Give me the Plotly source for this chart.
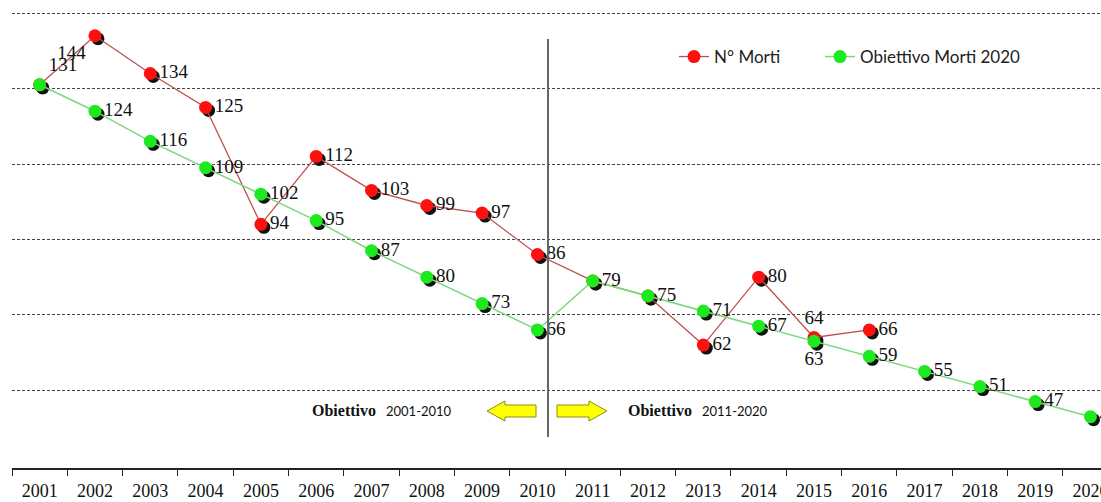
import plotly.graph_objects as go

# ---- data ----
years = [str(y) for y in range(2001, 2021)]
morti_years = years[:16]
morti = [131, 144, 134, 125, 94, 112, 103, 99, 97, 86, 79, 75, 62, 80, 64, 66]
obiettivo = [131, 124, 116, 109, 102, 95, 87, 80, 73, 66, 79, 75, 71, 67, 63, 59, 55, 51, 47, 43]
# labels shown on the chart (blank where the other series carries the label)
morti_labels = ["131", "144", "134", "125", "94", "112", "103", "99", "97", "86",
                "", "", "62", "80", "64", "66"]
obiettivo_labels = ["", "124", "116", "109", "102", "95", "87", "80", "73", "66",
                    "79", "75", "71", "67", "63", "59", "55", "51", "47", "43"]
morti_pos = ["top right", "bottom left"] + ["middle right"] * 12 + ["top center", "middle right"]
obiettivo_pos = ["middle right"] * 14 + ["bottom center"] + ["middle right"] * 5
periods = [("Obiettivo", "2001-2010"), ("Obiettivo", "2011-2020")]

W, H = 1101, 502
ML, MR, MT, MB = 12, 0, 12, 34
PW, PH = W - ML - MR, H - MT - MB
XR = [-0.5, 19.19]
YR = [29.4, 150.3]
# shadow offset (in axis units) ~3px right / 3px down
dx = 3 * (XR[1] - XR[0]) / PW
dy = 3 * (YR[1] - YR[0]) / PH


def px(x):
    return (x - ML) / PW


def py(y):
    return (H - MB - y) / PH


RED_LINE = "#bf4f4f"
GREEN_LINE = "#7fd77f"
LABEL_FONT = dict(family="Liberation Serif", size=19, color="#111111")
LEG_FONT = dict(family="Lato", size=17, color="#222222")

fig = go.Figure()

# shadows (main subplot, drawn below the overlay)
for xs, ys in [(morti_years, morti), (years, obiettivo)]:
    fig.add_trace(go.Scatter(x=xs, y=ys, mode="markers", xaxis="x", yaxis="y",
                             marker=dict(size=13, color="#111111"),
                             showlegend=False, hoverinfo="skip"))

fig.add_trace(go.Scatter(
    x=morti_years, y=morti, name="N° Morti", mode="lines+markers+text",
    xaxis="x2", yaxis="y2", legend="legend",
    line=dict(color=RED_LINE, width=1.3),
    marker=dict(size=13, color="#ff1010", line=dict(width=0)),
    text=morti_labels, textposition=morti_pos, textfont=LABEL_FONT))
fig.add_trace(go.Scatter(
    x=years, y=obiettivo, name="Obiettivo Morti 2020", mode="lines+markers+text",
    xaxis="x2", yaxis="y2", legend="legend2",
    line=dict(color=GREEN_LINE, width=1.5),
    marker=dict(size=13, color="#1ee81e", line=dict(width=0)),
    text=obiettivo_labels, textposition=obiettivo_pos, textfont=LABEL_FONT))

fig.update_layout(
    width=W, height=H,
    margin=dict(l=ML, r=MR, t=MT, b=MB, autoexpand=False),
    paper_bgcolor="white", plot_bgcolor="white",
    xaxis=dict(type="category", categoryorder="array", categoryarray=years,
               range=[XR[0] - dx, XR[1] - dx], visible=False),
    yaxis=dict(range=[YR[0] + dy, YR[1] + dy], visible=False),
    xaxis2=dict(type="category", categoryorder="array", categoryarray=years,
                overlaying="x", anchor="y2", side="bottom",
                range=XR, tickson="boundaries", ticks="outside", ticklen=6,
                tickcolor="#222222", tickwidth=1.2,
                showline=True, linecolor="#222222", linewidth=1.5,
                showgrid=False, zeroline=False, ticklabelstandoff=6,
                tickfont=dict(family="Liberation Serif", size=18, color="#111111")),
    yaxis2=dict(overlaying="y", anchor="x2", side="left",
                range=YR, tickmode="array", tickvals=[50, 70, 90, 110, 130, 150],
                showticklabels=False, ticks="", showgrid=True,
                gridcolor="#444444", gridwidth=1, griddash="3px,2px",
                zeroline=False, showline=False),
    legend=dict(x=px(674), y=py(57), xanchor="left", yanchor="middle",
                bgcolor="rgba(0,0,0,0)", font=LEG_FONT),
    legend2=dict(x=px(820), y=py(57), xanchor="left", yanchor="middle",
                 bgcolor="rgba(0,0,0,0)", font=LEG_FONT),
    showlegend=True,
)

# vertical separator
fig.add_shape(type="line", xref="paper", yref="paper",
              x0=px(548), x1=px(548), y0=py(39), y1=py(437),
              line=dict(color="#666666", width=2))


def arrow(x_tip, x_tail, yc, head=18, hh=10, sh=6):
    d = 1 if x_tail > x_tip else -1
    xb = x_tip + d * head
    pts = [(x_tip, yc), (xb, yc - hh), (xb, yc - sh), (x_tail, yc - sh),
           (x_tail, yc + sh), (xb, yc + sh), (xb, yc + hh)]
    path = "M " + " L ".join(f"{px(a):.5f},{py(b):.5f}" for a, b in pts) + " Z"
    fig.add_shape(type="path", xref="paper", yref="paper", path=path,
                  fillcolor="#ffff00", line=dict(color="#8c8c1a", width=1))


arrow(487, 536, 411)
arrow(607, 557, 411)

for (word, lab), x0 in zip(periods, [310, 626]):
    fig.add_annotation(xref="paper", yref="paper", x=px(x0), y=py(410),
                       xanchor="left", yanchor="middle", showarrow=False,
                       text=f"<b>{word}</b>",
                       font=dict(family="Liberation Serif", size=16, color="#111111"))
    fig.add_annotation(xref="paper", yref="paper", x=px(x0 + 74), y=py(411),
                       xanchor="left", yanchor="middle", showarrow=False,
                       text=lab,
                       font=dict(family="Lato", size=13, color="#111111"))

fig.write_html("out.html",
               config={"displayModeBar": False},
               post_script="document.body.style.margin='0px';"
                           "document.body.style.overflow='hidden';")
